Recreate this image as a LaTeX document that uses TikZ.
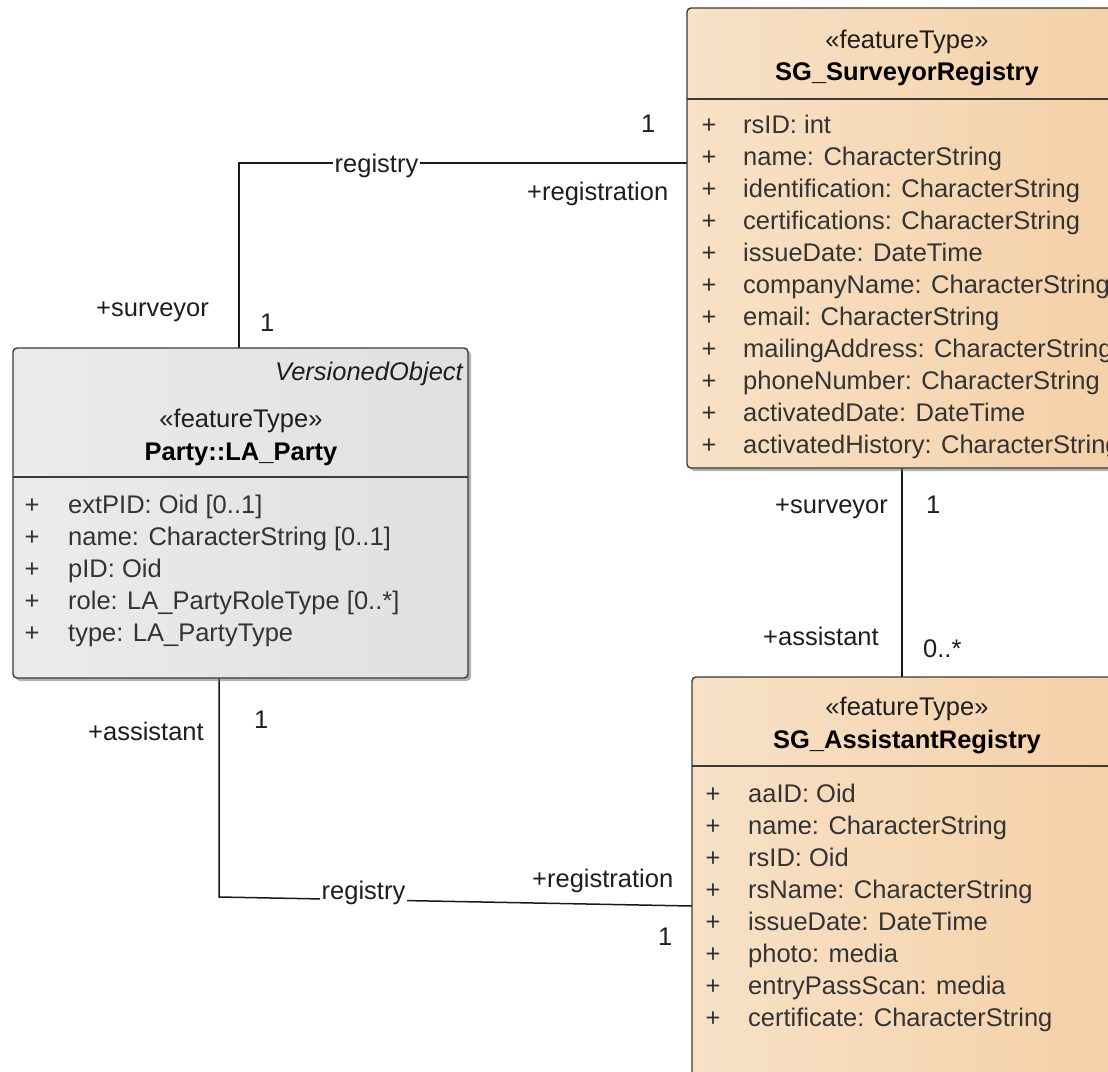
\documentclass[tikz,border=0pt]{standalone}
\usepackage{fontspec}
\setmainfont{Liberation Sans}
\usetikzlibrary{shadows,calc}
\definecolor{peachA}{HTML}{F7E2C8}
\definecolor{peachB}{HTML}{FBEFE0}
\definecolor{peachC}{HTML}{F8E3CA}
\definecolor{peachD}{HTML}{F2C897}
\definecolor{grayA}{HTML}{EBEBEB}
\definecolor{grayB}{HTML}{F7F7F7}
\definecolor{grayC}{HTML}{EDEDED}
\definecolor{grayD}{HTML}{DADADA}
\definecolor{bord}{HTML}{3A3A3A}
\definecolor{txt}{HTML}{333333}
\definecolor{lbl}{HTML}{1E1E1E}
\pgfdeclarehorizontalshading{peachsh}{100bp}{color(0bp)=(peachA); color(8bp)=(peachB); color(20bp)=(peachC); color(100bp)=(peachD)}
\pgfdeclarehorizontalshading{graysh}{100bp}{color(0bp)=(grayA); color(8bp)=(grayB); color(18bp)=(grayC); color(100bp)=(grayD)}
\begin{document}
\begin{tikzpicture}[x=1pt,y=-1pt,
  cls/.style={draw=bord, line width=1.4pt, rounded corners=4pt, anchor=north west,
    inner sep=0pt, outer sep=0pt,
    drop shadow={shadow xshift=3pt, shadow yshift=-3pt, fill=black!55, opacity=0.55}},
  peachbox/.style={cls, shading=peachsh},
  graybox/.style={cls, shading=graysh},
  divline/.style={draw=bord, line width=1.4pt},
  conn/.style={draw=black!90, line width=1.5pt},
  ttl/.style={font=\fontsize{25.5}{30}\selectfont\bfseries, text=black, inner sep=0pt, anchor=base},
  stereo/.style={font=\fontsize{25.5}{30}\selectfont, text=lbl, inner sep=0pt, anchor=base},
  attr/.style={font=\fontsize{25.5}{30}\selectfont, text=txt, inner sep=0pt, anchor=base west},
  plus/.style={font=\fontsize{25.5}{30}\selectfont, text=txt, inner sep=0pt, anchor=base},
  lab/.style={font=\fontsize{25.5}{30}\selectfont, text=lbl, inner sep=0pt, anchor=base west},
  onlin/.style={lab, fill=white, inner sep=1.5pt}
]
\useasboundingbox (0,0) rectangle (1108,1071);
\clip (0,0) rectangle (1108,1071);
\fill[white] (0,0) rectangle (1108,1071);

% connector end points
\coordinate (srL) at (687,163);
\coordinate (ptop) at (239,348);
\coordinate (srB) at (902,468);
\coordinate (arT) at (902,677);
\coordinate (pbot) at (219,678);
\coordinate (lowc) at (219,897);
\coordinate (arL) at (692,906);

% connectors
\draw[conn] (ptop) |- (srL);
\draw[conn] (srB) -- (arT);
\draw[conn] (pbot) -- (lowc) -- (arL);

% boxes
\node[peachbox, minimum width=436pt, minimum height=460pt] (sr) at (687,8) {};
\node[graybox, minimum width=455pt, minimum height=330pt] (party) at (13,348) {};
\node[peachbox, minimum width=431pt, minimum height=420pt] (ar) at (692,677) {};

\draw[divline] (sr.west |- 0,99) -- (sr.east |- 0,99);
\draw[divline] (party.west |- 0,477) -- (party.east |- 0,477);
\draw[divline] (ar.west |- 0,766) -- (ar.east |- 0,766);

% SG_SurveyorRegistry
\node[stereo] (srst) at (907,48) {«featureType»};
\node[ttl] (srnm) at (907,80) {SG\_SurveyorRegistry};
\foreach \t [count=\i from 0] in {{rsID: int},{name: CharacterString},{identification: CharacterString},{certifications: CharacterString},{issueDate: DateTime},{companyName: CharacterString},{email: CharacterString},{mailingAddress: CharacterString},{phoneNumber: CharacterString},{activatedDate: DateTime},{activatedHistory: CharacterString}}{
  \node[plus] (srp\i) at (709,133+32*\i) {+};
  \node[attr] (sra\i) at (743,133+32*\i) {\t};
}

% Party::LA_Party
\node[font=\fontsize{25.5}{30}\selectfont\itshape, text=lbl, inner sep=0pt, anchor=base east] (pver) at (463,380) {VersionedObject};
\node[stereo] (pst) at (241,427) {«featureType»};
\node[ttl] (pnm) at (241,460) {Party::LA\_Party};
\foreach \t [count=\i from 0] in {{extPID: Oid [0..1]},{name: CharacterString [0..1]},{pID: Oid},{role: LA\_PartyRoleType [0..*]},{type: LA\_PartyType}}{
  \node[plus] (pp\i) at (32,513+32*\i) {+};
  \node[attr] (pa\i) at (68,513+32*\i) {\t};
}

% SG_AssistantRegistry
\node[stereo] (arst) at (907,715) {«featureType»};
\node[ttl] (arnm) at (907,748) {SG\_AssistantRegistry};
\foreach \t [count=\i from 0] in {{aaID: Oid},{name: CharacterString},{rsID: Oid},{rsName: CharacterString},{issueDate: DateTime},{photo: media},{entryPassScan: media},{certificate: CharacterString}}{
  \node[plus] (arp\i) at (713,802+32*\i) {+};
  \node[attr] (ara\i) at (748,802+32*\i) {\t};
}

% labels: upper association
\node[onlin] (l1) at (333,172) {registry};
\node[lab] (l2) at (641,132) {1};
\node[lab] (l3) at (527,200) {+registration};
\node[lab] (l4) at (96,316) {+surveyor};
\node[lab] (l5) at (260,331) {1};

% labels: vertical association
\node[lab] (l6) at (775,513) {+surveyor};
\node[lab] (l7) at (926,513) {1};
\node[lab] (l8) at (763,645) {+assistant};
\node[lab] (l9) at (923,657) {0..*};

% labels: lower association
\node[lab] (l10) at (88,740) {+assistant};
\node[lab] (l11) at (254,728) {1};
\node[onlin, inner ysep=0pt] (l12) at (320,899) {registry};
\node[lab] (l13) at (532,887) {+registration};
\node[lab] (l14) at (658,945) {1};
\end{tikzpicture}
\end{document}
